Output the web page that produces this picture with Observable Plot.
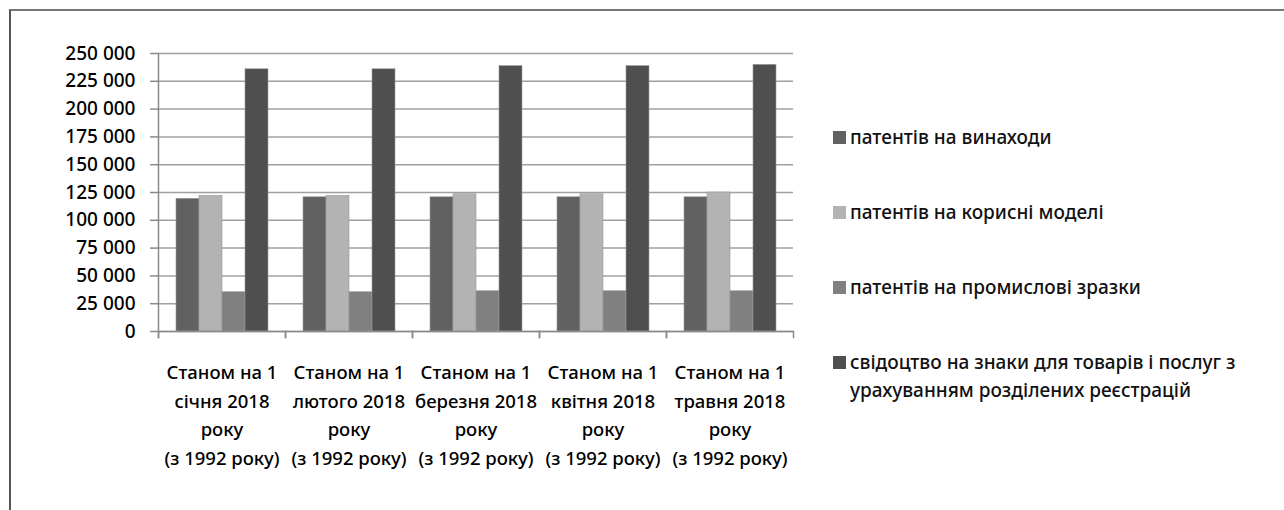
<!DOCTYPE html>
<html>
<head>
<meta charset="utf-8">
<script src="https://cdn.jsdelivr.net/npm/d3@7"></script>
<script src="https://cdn.jsdelivr.net/npm/@observablehq/plot@0.6"></script>
<style>
  html, body { margin: 0; padding: 0; background: #fff; }
  body { width: 1284px; height: 510px; position: relative; overflow: hidden; font-family: "Noto Sans", sans-serif; }
  #frame { position: absolute; left: 9px; top: 9px; right: -10px; bottom: -10px; border-top: 2px solid #777; border-left: 2px solid #555; }
  #chart { position: absolute; left: 0; top: 0; }
  #legend { position: absolute; left: 833px; top: 0; font-size: 19px; font-weight: 500; color: #111; }
  .item { position: absolute; left: 0; white-space: nowrap; display: flex; align-items: flex-start; line-height: 28px; }
  .sw { width: 13px; height: 13px; margin-top: 8px; margin-right: 4px; flex: none; }
</style>
</head>
<body>
<div id="frame"></div>
<div id="chart"></div>
<div id="legend"></div>
<script>
const categories = [
  "Станом на 1\nсічня 2018\nроку\n(з 1992 року)",
  "Станом на 1\nлютого 2018\nроку\n(з 1992 року)",
  "Станом на 1\nберезня 2018\nроку\n(з 1992 року)",
  "Станом на 1\nквітня 2018\nроку\n(з 1992 року)",
  "Станом на 1\nтравня 2018\nроку\n(з 1992 року)"
];
const series = [
  "патентів на винаходи",
  "патентів на корисні моделі",
  "патентів на промислові зразки",
  "свідоцтво на знаки для товарів і послуг з урахуванням розділених реєстрацій"
];
const legendLabels = [
  "патентів на винаходи",
  "патентів на корисні моделі",
  "патентів на промислові зразки",
  "свідоцтво на знаки для товарів і послуг з<br>урахуванням розділених реєстрацій"
];
const inventions   = [119300, 120700, 120700, 120700, 120700];
const utilityModels = [122000, 122000, 123400, 123400, 125000];
const designs      = [35300, 35300, 36200, 36200, 36200];
const trademarks   = [235800, 235800, 238600, 238600, 239800];
const yTicks = [0, 25000, 50000, 75000, 100000, 125000, 150000, 175000, 200000, 225000, 250000];
const colors = ["#616161", "#b3b3b3", "#808080", "#4f4f4f"];

const seriesValues = [inventions, utilityModels, designs, trademarks];
const data = [];
categories.forEach((c, i) => {
  series.forEach((s, j) => data.push({category: c, series: s, value: seriesValues[j][i]}));
});

const fmt = d => d3.format(",")(d).replace(/,/g, " ");

const chart = Plot.plot({
  width: 800,
  height: 490,
  marginLeft: 158,
  marginRight: 7,
  marginTop: 53,
  marginBottom: 159,
  style: {fontFamily: "Noto Sans, sans-serif", fontWeight: 500, color: "#000", background: "transparent"},
  fx: {domain: categories, padding: 0, label: null},
  x: {domain: series, paddingInner: 0, paddingOuter: 0.76, axis: null},
  y: {domain: [0, 250000], label: null},
  color: {domain: series, range: colors},
  marks: [
    Plot.gridY(yTicks, {stroke: "#a0a0a0", strokeOpacity: 1, strokeWidth: 1.5}),
    Plot.barY(data, {fx: "category", x: "series", y: "value", fill: "series", stroke: "#9a9a9a", strokeWidth: 0.6}),
    Plot.ruleY([0], {stroke: "#8a8a8a", strokeWidth: 1.5}),
    Plot.frame({anchor: "left", facetAnchor: "left", insetBottom: -6, stroke: "#8a8a8a", strokeWidth: 1.5}),
    Plot.frame({anchor: "left", insetTop: 278, insetBottom: -6, stroke: "#8a8a8a", strokeWidth: 1.5}),
    Plot.frame({anchor: "right", insetTop: 278, insetBottom: -6, stroke: "#8a8a8a", strokeWidth: 1.5}),
    Plot.axisY(yTicks, {tickSize: 8, tickPadding: 15, tickFormat: fmt, fontSize: 19, stroke: "#8a8a8a", strokeWidth: 1.5, label: null}),
    Plot.axisFx({anchor: "bottom", tickSize: 0, label: null, fontSize: 18.5, lineHeight: 1.55, dy: 18})
  ]
});
document.getElementById("chart").appendChild(chart);

const legend = document.getElementById("legend");
const itemTops = [123, 198, 273, 348];
legendLabels.forEach((l, i) => {
  const div = document.createElement("div");
  div.className = "item";
  div.style.top = itemTops[i] + "px";
  div.innerHTML = `<span class="sw" style="background:${colors[i]}"></span><span>${l}</span>`;
  legend.appendChild(div);
});
</script>
</body>
</html>
